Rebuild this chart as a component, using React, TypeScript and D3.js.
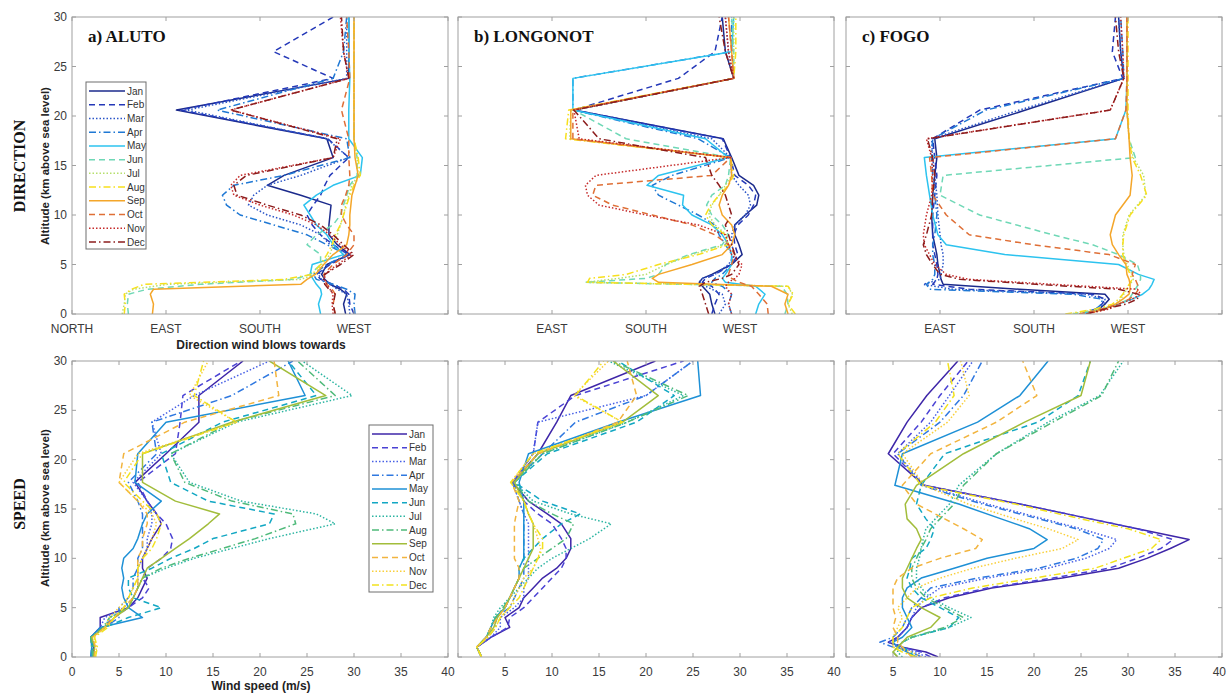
import React from "react";
import * as d3 from "d3";

const months = ["Jan", "Feb", "Mar", "Apr", "May", "Jun", "Jul", "Aug", "Sep", "Oct", "Nov", "Dec"];

// jet-like colours for direction, parula-like for speed
const dirColors = ["#1b2a8c", "#2438b8", "#2a55c8", "#1f78d4", "#2cc3ef", "#6fd8b6", "#b6df6c", "#f7e01d", "#f4a62a", "#df6f36", "#c52a2a", "#8c1c1c"];
const spdColors = ["#3e26a8", "#4a42d4", "#4760e6", "#2f78e0", "#1e90d6", "#12a7c3", "#2cb5a2", "#4fba7a", "#a2bd3b", "#f2b43e", "#f9d03c", "#f2e21e"];

const dirTicks = [0, 90, 180, 270, 360];
const dirTickLabels = ["NORTH", "EAST", "SOUTH", "WEST", ""];
const spdTicks = [0, 5, 10, 15, 20, 25, 30, 35, 40];
const altTicks = [0, 5, 10, 15, 20, 25, 30];

// ---------- a) ALUTO direction (degrees) ----------
const altAlutoDir = [0, 1, 2, 2.5, 3, 3.5, 4, 5, 6, 7, 8, 9, 10, 11, 12, 13, 14, 15.8, 17.7, 20.6, 23.8, 26.5, 30];
const alutoDir = [
  [262, 260, 263, 257, 247, 242, 239, 244, 266, 254, 246, 246, 247, 248, 219, 187, 203, 250, 244, 100, 265, 265, 265],
  [270, 266, 265, 260, 250, 238, 234, 247, 265, 250, 238, 230, 225, 231, 238, 242, 247, 265, 245, 104, 250, 193, 250],
  [266, 265, 263, 254, 247, 239, 236, 246, 266, 247, 238, 219, 187, 169, 174, 187, 219, 265, 244, 110, 263, 263, 263],
  [271, 270, 271, 263, 250, 234, 231, 244, 263, 244, 225, 193, 161, 148, 144, 155, 203, 266, 263, 139, 250, 260, 263],
  [238, 236, 239, 238, 234, 231, 228, 230, 260, 250, 244, 234, 228, 222, 234, 250, 276, 278, 265, 265, 266, 265, 265],
  [54, 53, 54, 72, 123, 212, 228, 238, 238, 225, 234, 250, 257, 260, 263, 266, 273, 273, 270, 270, 270, 270, 270],
  [48, 50, 51, 59, 91, 219, 233, 239, 247, 250, 254, 257, 260, 262, 265, 268, 274, 273, 270, 270, 270, 270, 270],
  [50, 51, 50, 57, 69, 203, 230, 238, 244, 249, 252, 257, 260, 263, 266, 270, 276, 274, 270, 270, 270, 270, 270],
  [77, 78, 75, 78, 219, 225, 233, 241, 250, 263, 265, 266, 266, 267, 268, 271, 274, 271, 270, 270, 270, 270, 270],
  [252, 250, 252, 249, 244, 242, 241, 250, 263, 270, 270, 263, 258, 258, 262, 265, 266, 265, 265, 258, 266, 265, 263],
  [250, 249, 250, 247, 244, 242, 242, 254, 268, 257, 247, 234, 212, 180, 155, 152, 161, 250, 257, 152, 265, 260, 257],
  [252, 250, 252, 246, 242, 241, 242, 257, 270, 260, 250, 238, 219, 187, 158, 155, 167, 250, 254, 152, 265, 260, 258],
];

// ---------- b) LONGONOT direction ----------
const altLongonotDir = [0, 1, 2, 2.8, 3.2, 3.6, 4, 5, 6, 7, 8, 9, 10, 11, 12, 13, 14, 15.8, 17.7, 20.6, 23.8, 26.5, 30];
const longonotDir = [
  [246, 243, 241, 234, 231, 234, 243, 262, 272, 269, 265, 265, 275, 286, 288, 283, 269, 262, 254, 111, 264, 256, 253],
  [243, 246, 250, 243, 234, 237, 246, 262, 268, 265, 264, 268, 278, 283, 285, 278, 265, 261, 253, 111, 211, 246, 253],
  [250, 256, 253, 237, 231, 234, 246, 259, 265, 262, 262, 265, 275, 280, 278, 269, 262, 261, 243, 111, 264, 259, 256],
  [262, 259, 262, 253, 243, 246, 253, 262, 262, 256, 250, 246, 230, 211, 192, 186, 205, 261, 230, 110, 110, 262, 262],
  [285, 288, 294, 285, 256, 253, 256, 262, 262, 259, 253, 243, 224, 215, 216, 181, 192, 259, 237, 110, 110, 262, 264],
  [313, 316, 315, 310, 122, 180, 192, 199, 221, 253, 259, 253, 243, 238, 243, 256, 259, 261, 161, 111, 264, 264, 262],
  [320, 316, 320, 316, 122, 154, 180, 199, 224, 256, 257, 246, 240, 243, 250, 256, 262, 261, 107, 108, 264, 264, 264],
  [323, 316, 321, 316, 124, 126, 161, 192, 230, 259, 256, 243, 237, 242, 250, 259, 264, 261, 103, 106, 264, 266, 266],
  [316, 313, 316, 300, 192, 186, 192, 224, 253, 262, 265, 262, 253, 250, 253, 259, 262, 261, 108, 108, 264, 262, 259],
  [297, 296, 288, 281, 269, 262, 259, 262, 265, 259, 246, 224, 186, 148, 129, 132, 243, 261, 110, 110, 264, 262, 259],
  [262, 259, 262, 256, 259, 265, 269, 272, 262, 259, 256, 230, 180, 135, 124, 122, 132, 261, 116, 111, 264, 259, 256],
  [240, 237, 234, 231, 237, 253, 262, 269, 265, 262, 259, 256, 262, 259, 256, 250, 243, 237, 135, 111, 264, 256, 250],
];

// ---------- c) FOGO direction ----------
const altFogoDir = [0, 0.5, 1, 1.5, 2, 2.5, 3, 3.5, 4, 5, 6, 7, 8, 10, 12, 14, 15.8, 17.7, 20.6, 23.8, 26.5, 30];
const fogoDir = [
  [230, 242, 248, 252, 248, 166, 93, 91, 90, 88, 87, 85, 83, 82, 83, 85, 87, 85, 172, 266, 263, 261],
  [226, 239, 245, 248, 236, 118, 83, 87, 88, 87, 85, 83, 83, 83, 85, 87, 85, 83, 128, 265, 255, 258],
  [230, 242, 247, 248, 230, 102, 74, 90, 91, 93, 93, 91, 90, 88, 87, 85, 83, 82, 166, 266, 263, 261],
  [226, 239, 245, 245, 217, 80, 77, 83, 85, 85, 83, 83, 85, 87, 85, 83, 82, 83, 134, 266, 265, 263],
  [226, 245, 261, 274, 284, 290, 293, 295, 280, 261, 152, 96, 88, 83, 80, 77, 75, 258, 268, 269, 269, 269],
  [217, 245, 261, 271, 274, 277, 280, 282, 282, 279, 261, 236, 198, 128, 90, 93, 277, 271, 269, 269, 269, 269],
  [214, 245, 258, 263, 266, 269, 272, 275, 274, 269, 266, 265, 265, 271, 287, 285, 275, 271, 269, 269, 269, 269],
  [210, 239, 255, 261, 265, 268, 271, 274, 272, 268, 265, 265, 266, 272, 288, 282, 274, 271, 270, 270, 270, 270],
  [230, 248, 258, 265, 271, 272, 272, 271, 269, 268, 261, 255, 253, 258, 272, 274, 272, 271, 269, 269, 269, 269],
  [223, 245, 261, 271, 277, 280, 279, 277, 274, 277, 252, 179, 118, 96, 83, 82, 80, 258, 268, 269, 269, 269],
  [230, 252, 261, 274, 282, 279, 198, 118, 96, 85, 80, 75, 74, 77, 82, 83, 82, 77, 253, 266, 265, 263],
  [230, 248, 268, 279, 280, 261, 182, 109, 90, 83, 77, 74, 77, 82, 83, 85, 83, 78, 253, 266, 261, 258],
];

// ---------- d) ALUTO speed (m/s) ----------
const altAlutoSpd = [0, 1, 2, 3, 4, 5, 6, 7, 8, 9, 10, 11, 12, 13.5, 14.5, 15.8, 17.7, 20.6, 23.8, 26.5, 30];
const alutoSpd = [
  [2.2, 2.3, 2.0, 3.0, 3.0, 6.0, 7.0, 7.5, 8.0, 7.5, 7.5, 8.0, 8.5, 9.5, 9.0, 8.0, 6.7, 10.0, 13.5, 13.5, 18.2],
  [2.3, 2.4, 2.1, 3.2, 4.5, 6.0, 7.5, 8.2, 7.5, 8.0, 9.5, 10.5, 10.7, 10.0, 9.0, 8.0, 7.0, 11.0, 11.5, 11.8, 18.0],
  [2.1, 2.2, 2.0, 3.0, 3.5, 5.5, 6.5, 7.0, 7.0, 7.0, 7.5, 8.0, 8.0, 8.5, 8.5, 8.0, 6.5, 9.5, 8.5, 13.0, 21.0],
  [2.0, 2.1, 2.0, 3.5, 5.0, 5.0, 6.0, 6.5, 6.5, 7.0, 7.0, 7.5, 7.5, 7.5, 7.5, 7.0, 6.0, 9.0, 8.5, 17.0, 23.5],
  [2.0, 2.1, 2.0, 3.0, 7.5, 6.0, 5.5, 5.3, 5.5, 5.3, 5.5, 6.5, 7.0, 7.5, 8.0, 9.5, 6.7, 7.0, 10.0, 24.8, 23.0],
  [2.2, 2.3, 2.0, 3.5, 6.0, 9.5, 6.5, 6.0, 6.0, 8.5, 10.5, 13.0, 15.0, 21.0, 21.5, 14.5, 10.5, 9.5, 16.0, 26.0, 23.0],
  [2.3, 2.2, 2.0, 3.5, 4.0, 6.0, 6.5, 7.0, 7.5, 10.0, 13.0, 17.0, 21.0, 28.0, 26.0, 18.0, 12.5, 10.5, 17.5, 29.8, 24.5],
  [2.2, 2.1, 2.0, 3.3, 4.0, 6.0, 6.5, 7.0, 7.5, 9.5, 12.5, 16.0, 19.5, 23.8, 23.5, 17.0, 12.0, 10.5, 17.0, 28.0, 24.0],
  [2.3, 2.4, 2.1, 3.5, 4.5, 6.0, 6.5, 7.0, 7.5, 8.0, 9.5, 11.0, 12.5, 14.5, 15.7, 11.0, 7.5, 7.5, 17.0, 27.0, 21.0],
  [2.4, 2.5, 2.2, 3.5, 4.5, 5.5, 6.5, 7.0, 7.0, 7.0, 7.0, 7.5, 7.5, 8.0, 8.0, 7.0, 5.0, 5.5, 12.0, 22.0, 21.5],
  [2.5, 2.6, 2.3, 3.5, 4.0, 5.0, 6.0, 6.5, 7.0, 7.0, 7.5, 8.0, 8.5, 9.0, 8.5, 7.0, 5.0, 7.0, 17.5, 12.5, 14.5],
  [2.5, 2.7, 2.4, 3.8, 4.5, 5.5, 6.0, 6.5, 7.0, 7.0, 7.5, 8.5, 9.0, 9.5, 9.0, 7.5, 5.5, 7.5, 17.5, 13.0, 14.0],
];

// ---------- e) LONGONOT speed ----------
const altLongonotSpd = [0, 1, 2, 3, 4, 5, 6, 7, 8, 9, 10, 11, 12, 13.5, 14.5, 15.8, 17.7, 20.6, 23.8, 26.5, 30];
const longonotSpd = [
  [2.5, 2.0, 3.5, 5.5, 5.0, 6.5, 7.0, 8.0, 9.0, 10.5, 11.5, 12.0, 12.0, 11.0, 9.5, 7.5, 5.8, 8.5, 10.5, 12.0, 21.0],
  [2.5, 2.0, 3.5, 5.3, 5.5, 7.0, 8.0, 9.0, 10.0, 11.0, 11.5, 11.5, 11.0, 10.0, 8.5, 7.0, 5.8, 8.0, 8.5, 12.5, 24.0],
  [2.5, 2.0, 3.5, 4.5, 4.5, 6.0, 7.0, 7.0, 7.5, 7.5, 7.5, 7.5, 7.5, 7.5, 7.0, 6.5, 5.8, 8.0, 8.5, 20.0, 25.0],
  [2.5, 2.0, 3.2, 4.0, 4.0, 5.5, 6.0, 6.5, 7.0, 7.0, 7.0, 7.0, 7.0, 7.0, 7.0, 6.5, 5.8, 9.0, 12.5, 20.0, 25.0],
  [2.5, 2.0, 3.0, 3.5, 4.0, 5.0, 5.5, 6.0, 6.5, 6.5, 7.0, 7.0, 7.0, 7.0, 7.0, 7.0, 6.5, 7.5, 17.0, 25.8, 25.5],
  [2.5, 2.0, 3.0, 3.5, 4.0, 5.0, 5.5, 6.0, 6.5, 6.5, 7.0, 8.0, 9.0, 11.0, 13.0, 9.0, 6.0, 9.5, 19.0, 23.0, 17.0],
  [2.5, 2.0, 3.0, 3.5, 3.8, 4.5, 5.5, 6.5, 7.5, 8.5, 10.0, 12.0, 14.0, 16.3, 12.0, 8.0, 6.0, 9.0, 18.0, 24.0, 16.0],
  [2.5, 2.0, 3.0, 3.5, 4.0, 4.8, 5.5, 6.0, 6.5, 7.0, 8.5, 10.0, 11.5, 12.3, 10.0, 7.5, 6.0, 9.0, 18.0, 24.5, 16.5],
  [2.5, 2.0, 3.0, 3.8, 4.2, 5.0, 5.5, 6.0, 6.5, 7.0, 7.5, 8.0, 8.0, 8.0, 7.5, 7.0, 6.0, 8.5, 17.5, 21.3, 16.5],
  [2.5, 2.0, 3.0, 3.5, 4.2, 5.0, 5.5, 6.0, 6.5, 6.5, 6.0, 6.0, 6.0, 6.0, 6.2, 6.5, 5.7, 8.5, 17.0, 19.0, 18.0],
  [2.5, 2.0, 3.2, 4.0, 4.5, 5.5, 6.0, 6.5, 7.0, 8.0, 8.5, 8.8, 8.5, 8.0, 7.5, 7.0, 5.6, 8.0, 17.5, 12.3, 16.0],
  [2.5, 2.0, 3.2, 4.0, 4.5, 5.5, 6.5, 7.0, 7.5, 8.0, 8.5, 9.0, 9.0, 8.0, 7.5, 7.0, 5.6, 8.0, 17.5, 12.5, 15.5],
];

// ---------- f) FOGO speed ----------
const altFogoSpd = [0, 0.5, 1, 1.5, 2, 3, 4, 5, 6, 7, 8, 9, 10, 11, 11.9, 13, 14, 15.5, 17.4, 20.6, 23.8, 26.5, 30];
const fogoSpd = [
  [9.8, 8.5, 6.0, 4.5, 5.5, 6.5, 7.0, 8.0, 11.0, 15.5, 23.0, 29.0, 32.0, 34.5, 36.5, 31.0, 26.0, 18.5, 8.3, 4.5, 6.5, 8.6, 11.9],
  [9.0, 8.0, 6.0, 5.0, 5.5, 6.5, 7.0, 8.0, 10.5, 15.0, 22.0, 28.0, 31.0, 33.5, 34.8, 31.0, 26.0, 18.5, 8.3, 5.0, 8.0, 10.0, 13.0],
  [8.5, 7.5, 5.5, 4.5, 5.5, 6.5, 7.0, 7.5, 8.5, 10.0, 15.0, 21.5, 25.5, 28.0, 28.8, 25.0, 21.0, 15.0, 8.3, 5.5, 9.0, 11.0, 13.5],
  [8.0, 7.0, 5.0, 3.6, 5.0, 6.0, 6.5, 7.0, 8.0, 9.0, 14.0, 20.5, 24.5, 26.8, 27.4, 24.5, 20.5, 14.5, 8.0, 5.5, 10.0, 12.5, 14.5],
  [7.5, 6.5, 5.5, 5.0, 6.0, 7.0, 6.5, 6.0, 6.0, 6.5, 8.0, 11.5, 15.0, 20.0, 21.4, 19.5, 16.5, 12.0, 5.2, 6.0, 14.0, 18.5, 21.5],
  [7.0, 7.0, 6.0, 6.0, 7.0, 11.0, 12.0, 10.0, 8.0, 7.0, 6.5, 6.8, 7.0, 8.5, 9.0, 9.4, 8.5, 7.5, 8.0, 10.5, 20.4, 24.7, 26.0],
  [6.0, 5.5, 5.5, 6.0, 7.0, 11.0, 13.3, 11.0, 9.0, 8.0, 7.5, 7.5, 7.8, 8.0, 8.2, 8.5, 9.5, 11.0, 12.0, 16.0, 21.5, 27.0, 29.5],
  [5.5, 5.0, 5.5, 6.0, 7.0, 10.5, 12.5, 10.5, 8.5, 7.5, 7.0, 7.0, 7.5, 8.0, 8.5, 9.0, 10.0, 11.5, 12.5, 16.0, 22.0, 27.2, 29.0],
  [5.5, 5.0, 5.5, 6.0, 6.5, 9.0, 10.0, 8.0, 6.5, 6.0, 6.0, 6.5, 7.0, 7.5, 8.0, 7.5, 6.5, 6.3, 7.5, 12.5, 19.0, 25.0, 26.0],
  [7.0, 6.5, 6.0, 5.5, 5.5, 5.0, 5.3, 5.0, 5.0, 5.0, 5.5, 7.0, 10.0, 13.8, 14.5, 12.5, 10.5, 7.5, 6.0, 9.0, 16.0, 20.3, 18.8],
  [8.0, 7.0, 5.0, 5.0, 5.0, 5.5, 6.0, 5.5, 6.5, 7.5, 10.0, 13.5, 18.0, 23.0, 24.7, 21.5, 18.0, 13.0, 8.3, 6.0, 10.8, 13.1, 12.2],
  [7.5, 6.0, 5.0, 5.0, 5.0, 6.0, 6.5, 7.0, 9.0, 13.5, 20.0, 26.5, 29.5, 32.5, 33.5, 30.0, 25.0, 18.0, 8.0, 5.5, 9.5, 11.5, 10.8],
];

const dashes = ["", "6,4", "1.5,2", "7,3,1.5,3"];

const W = 1227;
const H = 693;
const colX = [72, 458, 846];
const PW = 376;
const rowY = [
  { top: 17, bottom: 314 },
  { top: 361, bottom: 657 },
];

const font = "'Liberation Sans', Arial, sans-serif";
const serif = "'Liberation Serif', 'Times New Roman', serif";
const axisColor = "#a0a0a0";
const tickText = "#3a3a3a";

type PanelProps = {
  id: string;
  col: number;
  row: number;
  domain: [number, number];
  alt: number[];
  data: number[][];
  colors: string[];
  ticks: number[];
  tickLabels: string[];
  showY: boolean;
  title?: string;
};

function Panel({ id, col, row, domain, alt, data, colors, ticks, tickLabels, showY, title }: PanelProps) {
  const x0 = colX[col];
  const { top, bottom } = rowY[row];
  const x = d3.scaleLinear().domain(domain).range([x0, x0 + PW]);
  const y = d3.scaleLinear().domain([0, 30]).range([bottom, top]);
  const line = d3
    .line<number>()
    .x((d) => x(d))
    .y((_, i) => y(alt[i]));
  const tl = 4;
  return (
    <g>
      <defs>
        <clipPath id={id}>
          <rect x={x0} y={top} width={PW} height={bottom - top} />
        </clipPath>
      </defs>
      <rect x={x0} y={top} width={PW} height={bottom - top} fill="#fff" />
      <g clipPath={`url(#${id})`}>
        {data.map((vals, i) => (
          <path
            key={i}
            d={line(vals) || ""}
            fill="none"
            stroke={colors[i]}
            strokeWidth={1.5}
            strokeDasharray={dashes[i % 4] || undefined}
            strokeLinejoin="round"
          />
        ))}
      </g>
      <rect x={x0} y={top} width={PW} height={bottom - top} fill="none" stroke={axisColor} strokeWidth={1} />
      {ticks.map((t) => (
        <g key={"x" + t}>
          <line x1={x(t)} x2={x(t)} y1={bottom} y2={bottom - tl} stroke={axisColor} />
          <line x1={x(t)} x2={x(t)} y1={top} y2={top + tl} stroke={axisColor} />
        </g>
      ))}
      {altTicks.map((t) => (
        <g key={"y" + t}>
          <line x1={x0} x2={x0 + tl} y1={y(t)} y2={y(t)} stroke={axisColor} />
          <line x1={x0 + PW} x2={x0 + PW - tl} y1={y(t)} y2={y(t)} stroke={axisColor} />
        </g>
      ))}
      {ticks.map((t, i) => {
        if (!tickLabels[i]) return null;
        // keep the last label inside the page
        const atEdge = x(t) + 8 > W;
        return (
          <text
            key={"xl" + t}
            x={atEdge ? W - 1 : x(t)}
            y={bottom + 19}
            textAnchor={atEdge ? "end" : "middle"}
            fontFamily={font}
            fontSize={12}
            fill={tickText}
          >
            {tickLabels[i]}
          </text>
        );
      })}
      {showY &&
        altTicks.map((t) => (
          <text
            key={"yl" + t}
            x={x0 - 5}
            y={y(t) + 4}
            textAnchor="end"
            fontFamily={font}
            fontSize={12}
            fill={tickText}
          >
            {t}
          </text>
        ))}
      {title && (
        <text x={x0 + 16} y={top + 25} fontFamily={serif} fontWeight="bold" fontSize={17} fill="#111">
          {title}
        </text>
      )}
    </g>
  );
}

function Legend({ x, y, w, h, colors, lineLen }: { x: number; y: number; w: number; h: number; colors: string[]; lineLen: number }) {
  const step = (h - 16) / 11;
  return (
    <g>
      <rect x={x} y={y} width={w} height={h} fill="#fff" stroke="#6e6e6e" strokeWidth={1} />
      {months.map((m, i) => {
        const yy = y + 9 + i * step;
        return (
          <g key={m}>
            <line
              x1={x + 3}
              x2={x + 3 + lineLen}
              y1={yy}
              y2={yy}
              stroke={colors[i]}
              strokeWidth={1.5}
              strokeDasharray={dashes[i % 4] || undefined}
            />
            <text x={x + 5 + lineLen} y={yy + 3.5} fontFamily={font} fontSize={10} fill="#333">
              {m}
            </text>
          </g>
        );
      })}
    </g>
  );
}

export default function App() {
  const spdLabelsFirst = spdTicks.map((t) => String(t));
  const spdLabelsOther = spdTicks.map((t) => (t === 0 ? "" : String(t)));
  const dirLabelsOther = dirTickLabels.map((l, i) => (i === 0 ? "" : l));
  return (
    <svg width={W} height={H} style={{ position: "absolute", left: 0, top: 0, background: "#fff" }}>
      <rect width={W} height={H} fill="#fff" />
      <Panel id="pa" col={0} row={0} domain={[0, 360]} alt={altAlutoDir} data={alutoDir} colors={dirColors} ticks={dirTicks} tickLabels={dirTickLabels} showY title="a) ALUTO" />
      <Panel id="pb" col={1} row={0} domain={[0, 360]} alt={altLongonotDir} data={longonotDir} colors={dirColors} ticks={dirTicks} tickLabels={dirLabelsOther} showY={false} title="b) LONGONOT" />
      <Panel id="pc" col={2} row={0} domain={[0, 360]} alt={altFogoDir} data={fogoDir} colors={dirColors} ticks={dirTicks} tickLabels={dirLabelsOther} showY={false} title="c) FOGO" />
      <Panel id="pd" col={0} row={1} domain={[0, 40]} alt={altAlutoSpd} data={alutoSpd} colors={spdColors} ticks={spdTicks} tickLabels={spdLabelsFirst} showY />
      <Panel id="pe" col={1} row={1} domain={[0, 40]} alt={altLongonotSpd} data={longonotSpd} colors={spdColors} ticks={spdTicks} tickLabels={spdLabelsOther} showY={false} />
      <Panel id="pf" col={2} row={1} domain={[0, 40]} alt={altFogoSpd} data={fogoSpd} colors={spdColors} ticks={spdTicks} tickLabels={spdLabelsOther} showY={false} />

      <Legend x={86} y={82} w={60} h={167} colors={dirColors} lineLen={36} />
      <Legend x={369} y={425} w={64} h={167} colors={spdColors} lineLen={35} />

      <text transform="translate(25,166) rotate(-90)" textAnchor="middle" fontFamily={serif} fontWeight="bold" fontSize={16} fill="#111">
        DIRECTION
      </text>
      <text transform="translate(25,504) rotate(-90)" textAnchor="middle" fontFamily={serif} fontWeight="bold" fontSize={16} fill="#111">
        SPEED
      </text>
      <text transform="translate(49,166) rotate(-90)" textAnchor="middle" fontFamily={font} fontWeight="bold" fontSize={11.5} fill="#222">
        Altitude (km above sea level)
      </text>
      <text transform="translate(49,508) rotate(-90)" textAnchor="middle" fontFamily={font} fontWeight="bold" fontSize={11.5} fill="#222">
        Altitude (km above sea level)
      </text>
      <text x={261} y={349} textAnchor="middle" fontFamily={font} fontWeight="bold" fontSize={12} fill="#222">
        Direction wind blows towards
      </text>
      <text x={261} y={690} textAnchor="middle" fontFamily={font} fontWeight="bold" fontSize={12} fill="#222">
        Wind speed (m/s)
      </text>
    </svg>
  );
}
